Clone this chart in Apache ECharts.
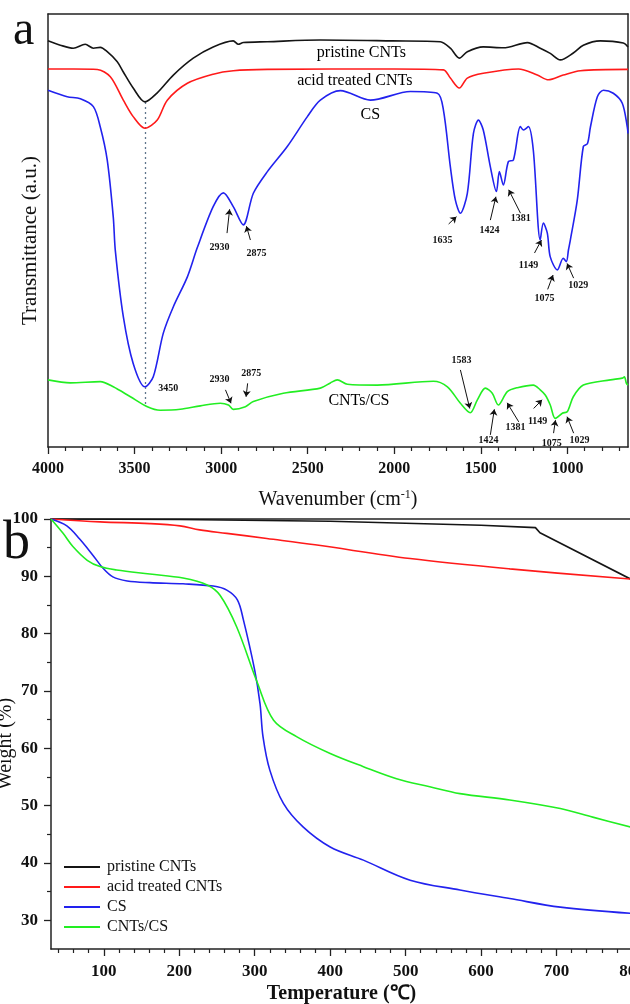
<!DOCTYPE html>
<html>
<head>
<meta charset="utf-8">
<title>FTIR / TGA of CNTs, CS and CNTs/CS</title>
<script src="https://cdn.jsdelivr.net/npm/echarts@6.0.0/dist/echarts.min.js"></script>
<style>
  html, body { margin: 0; padding: 0; background: #fff; }
  #main { width: 630px; height: 1004px; }
</style>
</head>
<body>
<div id="main"></div>
<script>
// ---- (a) FTIR spectra: [wavenumber (cm-1), transmittance (a.u.)]
var ftirPristine = [[4000,93.8],[3929,92.8],[3854,92.1],[3785,93.0],[3738,92.1],[3698,92.3],[3658,91.3],[3600,89.0],[3565,86.6],[3508,82.9],[3440,79.7],[3369,81.8],[3276,85.9],[3161,89.8],[3046,92.4],[2930,93.8],[2901,93.0],[2872,93.4],[2733,93.6],[2427,94.0],[2011,93.8],[1734,93.6],[1676,92.1],[1624,89.8],[1578,91.3],[1486,92.4],[1370,92.2],[1231,93.4],[1157,92.1],[1099,90.9],[1041,89.4],[966,91.0],[908,92.8],[810,93.8],[677,93.3],[650,92.4]];
var ftirAcid = [[4000,87.3],[3850,87.3],[3715,87.2],[3640,85.5],[3565,80.1],[3508,76.3],[3440,73.6],[3369,75.5],[3311,80.1],[3195,84.0],[3046,86.1],[2930,86.9],[2733,87.2],[2000,87.3],[1716,87.1],[1676,85.2],[1624,82.9],[1578,85.2],[1486,86.3],[1283,87.3],[1174,85.9],[1110,84.8],[1024,85.9],[925,86.9],[650,87.2]];
var ftirCS = [[4000,82.4],[3889,80.9],[3813,80.4],[3738,78.6],[3698,73.9],[3658,66.3],[3623,53.1],[3611,45.3],[3565,30.1],[3508,19.3],[3440,13.9],[3392,16.2],[3334,26.3],[3276,32.4],[3195,39.3],[3138,46.0],[3046,55.5],[2987,58.7],[2930,55.5],[2872,51.3],[2814,58.6],[2733,63.6],[2618,69.4],[2502,76.3],[2427,80.1],[2311,82.3],[2138,80.1],[1907,82.1],[1751,81.7],[1716,77.8],[1676,64.7],[1647,57.0],[1618,54.0],[1578,58.6],[1543,72.4],[1514,75.5],[1486,73.2],[1445,64.7],[1410,59.0],[1393,63.6],[1370,60.5],[1341,65.9],[1312,66.3],[1272,74.0],[1254,73.2],[1225,74.0],[1197,68.6],[1157,47.8],[1139,51.7],[1116,49.4],[1099,43.9],[1058,40.9],[1024,43.6],[1006,42.8],[994,45.5],[983,47.8],[943,57.0],[908,69.4],[884,70.1],[867,73.9],[827,80.9],[792,82.4],[735,81.7],[683,79.4],[654,73.9],[650,72.4]];
var ftirComposite = [[4000,15.5],[3871,14.8],[3698,15.1],[3623,13.9],[3524,11.6],[3426,9.3],[3352,8.5],[3236,8.7],[3120,9.5],[3005,10.1],[2958,9.7],[2930,8.7],[2860,9.3],[2814,10.5],[2641,12.4],[2427,13.6],[2369,14.8],[2329,15.5],[2271,14.5],[2098,14.3],[1774,15.2],[1693,13.9],[1618,10.1],[1561,7.9],[1520,10.9],[1474,13.6],[1434,12.4],[1399,9.7],[1347,12.8],[1289,13.7],[1197,14.3],[1157,13.2],[1128,12.0],[1099,9.7],[1070,6.6],[1029,7.8],[1000,8.2],[966,11.6],[908,14.3],[752,15.5],[683,15.9],[671,16.2],[659,14.7],[650,14.3]];
var ftirTicks = [1000, 1500, 2000, 2500, 3000, 3500, 4000];

// curve names written on the spectra
var curveLabels = [
  { text: 'pristine CNTs', at: [2190, 91.0] },
  { text: 'acid treated CNTs', at: [2228, 84.5] },
  { text: 'CS', at: [2138, 76.7] },
  { text: 'CNTs/CS', at: [2204, 10.6] }
];
// peak labels and their arrows (tail -> tip)
var peakLabels = [
  { text: '2930', at: [3010, 46.2] }, { text: '2875', at: [2796, 44.8] },
  { text: '3450', at: [3305, 13.6] }, { text: '1635', at: [1722, 47.6] },
  { text: '1424', at: [1450, 50.1] }, { text: '1381', at: [1270, 52.9] },
  { text: '1149', at: [1225, 42.0] }, { text: '1075', at: [1132, 34.4] },
  { text: '1029', at: [938, 37.4] },
  { text: '2930', at: [3010, 15.5] }, { text: '2875', at: [2826, 17.1] },
  { text: '1583', at: [1611, 20.1] }, { text: '1424', at: [1456, 1.6] },
  { text: '1381', at: [1300, 4.6] }, { text: '1149', at: [1172, 5.8] },
  { text: '1075', at: [1091, 0.9] }, { text: '1029', at: [930, 1.6] }
];
var peakArrows = [
  [[2966, 49.4], [2951, 54.9]], [[2831, 47.8], [2854, 51.0]],
  [[1686, 51.5], [1641, 53.2]], [[1445, 52.4], [1413, 57.8]],
  [[1271, 54.0], [1339, 59.4]], [[1190, 44.8], [1150, 47.8]],
  [[1114, 36.4], [1083, 39.7]], [[964, 39.0], [1002, 42.4]],
  [[2975, 13.2], [2943, 10.1]], [[2847, 14.7], [2856, 11.6]],
  [[1618, 17.8], [1564, 8.9]], [[1445, 2.8], [1422, 8.7]],
  [[1281, 5.8], [1348, 10.2]], [[1195, 8.9], [1146, 10.9]],
  [[1080, 3.2], [1069, 6.2]], [[964, 3.2], [1002, 7.0]]
];
var guideLine = [[3440, 79.7], [3440, 9.4]];

// ---- (b) TGA: [temperature (°C), weight (%)]
var tgaPristine = [[30,100],[200,99.9],[400,99.6],[600,98.9],[672,98.5],[678,97.6],[800,89.4]];
var tgaAcid = [[30,100],[95,99.5],[161,99.2],[201,98.8],[227,98.1],[263,97.5],[316,96.6],[380,95.5],[506,93.1],[638,91.3],[800,89.5]];
var tgaCS = [[30,100],[51,98.8],[68,96.5],[86,93.6],[99,91.4],[112,89.9],[131,89.2],[161,88.9],[205,88.7],[245,88.3],[263,87.6],[277,85.9],[285,82.4],[300,73.6],[307,67.8],[311,62.0],[320,56.2],[338,50.4],[364,46.3],[400,42.8],[444,40.5],[506,37.0],[572,35.3],[638,33.8],[705,32.3],[800,31.2]];
var tgaComposite = [[30,100],[46,97.5],[59,95.2],[78,92.8],[95,91.7],[117,91.1],[161,90.4],[205,89.7],[237,88.5],[254,86.7],[276,81.2],[303,71.6],[325,64.9],[356,62.0],[400,59.1],[444,56.8],[488,54.7],[532,53.3],[572,52.1],[638,51.0],[705,49.5],[748,48.0],[800,46.2]];
var tgaXTicks = [100, 200, 300, 400, 500, 600, 700, 800];
var tgaYTicks = [30, 40, 50, 60, 70, 80, 90, 100];

var names = ['pristine CNTs', 'acid treated CNTs', 'CS', 'CNTs/CS'];
var colors = ['#151515', '#ff1a1a', '#2222ee', '#22ee22'];
var FONT = '"Liberation Serif", "Times New Roman", serif';
var INK = '#111';

// minor tick positions
var ftirMinor = [];
for (var v = 700; v < 4000; v += 100) if (v % 500) ftirMinor.push(v);
var tgaXMinor = [];
for (var t = 40; t < 800; t += 20) if (t % 100) tgaXMinor.push(t);
var tgaYMinor = [35, 45, 55, 65, 75, 85, 95];

function plain(v) { return String(v); }

function frameAxis(grid, pos, min, max, inverse) {
  return {
    type: 'value', gridIndex: grid, position: pos, min: min, max: max, inverse: !!inverse,
    axisLine: { show: true, onZero: false, lineStyle: { color: '#222', width: 1.5 } },
    axisTick: { show: false }, axisLabel: { show: false }, splitLine: { show: false }
  };
}
function minorAxis(grid, pos, min, max, ticks, inverse) {
  return {
    type: 'value', gridIndex: grid, position: pos, min: min, max: max, inverse: !!inverse,
    axisLine: { show: false, onZero: false },
    axisTick: { show: true, length: 4, customValues: ticks, lineStyle: { color: '#222', width: 1.2 } },
    axisLabel: { show: false }, splitLine: { show: false }
  };
}

var chart = echarts.init(document.getElementById('main'));

var option = {
  animation: false,
  backgroundColor: '#fff',
  grid: [
    { left: 48, top: 14, width: 580, height: 433, outerBoundsMode: 'none', containLabel: false },
    { left: 51, top: 519, width: 581, height: 430, outerBoundsMode: 'none', containLabel: false }
  ],
  xAxis: [
    {
      type: 'value', gridIndex: 0, min: 650, max: 4000, inverse: true, position: 'bottom',
      axisLine: { show: true, onZero: false, lineStyle: { color: '#222', width: 1.5 } },
      axisTick: { show: true, length: 7, customValues: ftirTicks, lineStyle: { color: '#222', width: 1.3 } },
      axisLabel: { customValues: ftirTicks, formatter: plain, fontFamily: FONT, fontSize: 16, fontWeight: 'bold', color: INK, margin: 14 },
      splitLine: { show: false },
      name: 'Wavenumber (cm{sup|-1})', nameLocation: 'middle', nameGap: 42, nameMoveOverlap: false,
      nameTextStyle: {
        fontFamily: FONT, fontSize: 20, color: INK,
        rich: { sup: { fontFamily: FONT, fontSize: 12, color: INK, padding: [0, 0, 10, 0] } }
      }
    },
    minorAxis(0, 'bottom', 650, 4000, ftirMinor, true),
    frameAxis(0, 'top', 650, 4000, true),
    {
      type: 'value', gridIndex: 1, min: 30, max: 800, position: 'bottom',
      axisLine: { show: true, onZero: false, lineStyle: { color: '#222', width: 1.5 } },
      axisTick: { show: true, length: 7, customValues: tgaXTicks, lineStyle: { color: '#222', width: 1.3 } },
      axisLabel: { customValues: tgaXTicks, formatter: plain, fontFamily: FONT, fontSize: 17, fontWeight: 'bold', color: INK, margin: 14 },
      splitLine: { show: false },
      name: 'Temperature (\u2103)', nameLocation: 'middle', nameGap: 35, nameMoveOverlap: false,
      nameTextStyle: { fontFamily: FONT, fontSize: 20, fontWeight: 'bold', color: INK }
    },
    minorAxis(1, 'bottom', 30, 800, tgaXMinor),
    frameAxis(1, 'top', 30, 800)
  ],
  yAxis: [
    {
      type: 'value', gridIndex: 0, min: 0, max: 100, position: 'left',
      axisLine: { show: true, onZero: false, lineStyle: { color: '#222', width: 1.5 } },
      axisTick: { show: false }, axisLabel: { show: false }, splitLine: { show: false },
      name: 'Transmittance (a.u.)', nameLocation: 'middle', nameRotate: 90, nameGap: 7, nameMoveOverlap: false,
      nameTextStyle: { fontFamily: FONT, fontSize: 21, color: INK, padding: [0, 20, 0, 0] }
    },
    frameAxis(0, 'right', 0, 100),
    {
      type: 'value', gridIndex: 1, min: 25, max: 100, position: 'left',
      axisLine: { show: true, onZero: false, lineStyle: { color: '#222', width: 1.5 } },
      axisTick: { show: true, length: 7, customValues: tgaYTicks, lineStyle: { color: '#222', width: 1.3 } },
      axisLabel: { customValues: tgaYTicks, formatter: plain, fontFamily: FONT, fontSize: 17, fontWeight: 'bold', color: INK, margin: 13 },
      splitLine: { show: false },
      name: 'Weight (%)', nameLocation: 'middle', nameRotate: 90, nameGap: 35, nameMoveOverlap: false,
      nameTextStyle: { fontFamily: FONT, fontSize: 20, color: INK, padding: [0, 20, 0, 0] }
    },
    minorAxis(1, 'left', 25, 100, tgaYMinor)
  ],
  legend: {
    data: names, orient: 'vertical', left: 64, top: 859, padding: 0,
    icon: 'rect', itemWidth: 36, itemHeight: 2, itemGap: 4,
    textStyle: { fontFamily: FONT, fontSize: 16, color: INK, lineHeight: 16, padding: [0, 0, 0, 2] },
    selectedMode: false
  },
  graphic: [
    { type: 'text', x: 13, y: 31, style: { text: 'a', font: '48px ' + FONT, fill: INK, verticalAlign: 'middle' } },
    { type: 'text', x: 3, y: 544, style: { text: 'b', font: '54px ' + FONT, fill: INK, verticalAlign: 'middle' } }
  ],
  series: []
};

var ftirSets = [ftirPristine, ftirAcid, ftirCS, ftirComposite];
var tgaSets = [tgaPristine, tgaAcid, tgaCS, tgaComposite];

ftirSets.forEach(function (d, i) {
  option.series.push({
    name: 'FTIR ' + names[i], type: 'line', xAxisIndex: 0, yAxisIndex: 0,
    data: d, showSymbol: false, smooth: 0.3, silent: true,
    lineStyle: { color: colors[i], width: 1.6 }, itemStyle: { color: colors[i] }
  });
});
tgaSets.forEach(function (d, i) {
  option.series.push({
    name: names[i], type: 'line', xAxisIndex: 3, yAxisIndex: 2,
    data: d, showSymbol: false, smooth: i === 0 ? false : 0.35, silent: true,
    lineStyle: { color: colors[i], width: 1.6 }, itemStyle: { color: colors[i] }
  });
});

option.series.push({
  type: 'lines', coordinateSystem: 'cartesian2d', xAxisIndex: 0, yAxisIndex: 0, silent: true,
  symbol: ['none', 'none'],
  lineStyle: { color: '#60758c', width: 1.3, type: [2, 3], opacity: 1 },
  data: [{ coords: guideLine }]
});
option.series.push({
  type: 'lines', coordinateSystem: 'cartesian2d', xAxisIndex: 0, yAxisIndex: 0, silent: true,
  symbol: ['none', 'arrow'], symbolSize: 6,
  lineStyle: { color: INK, width: 1, opacity: 1 },
  data: peakArrows.map(function (a) { return { coords: a }; })
});
option.series.push({
  type: 'scatter', xAxisIndex: 0, yAxisIndex: 0, silent: true, symbolSize: 1,
  itemStyle: { color: 'rgba(0,0,0,0)', opacity: 1 },
  label: { show: true, position: 'inside', formatter: '{b}', fontFamily: FONT, fontSize: 16, color: '#000', opacity: 1 },
  data: curveLabels.map(function (l) { return { name: l.text, value: l.at }; })
});
option.series.push({
  type: 'scatter', xAxisIndex: 0, yAxisIndex: 0, silent: true, symbolSize: 1,
  itemStyle: { color: 'rgba(0,0,0,0)', opacity: 1 },
  label: { show: true, position: 'inside', formatter: '{b}', fontFamily: FONT, fontSize: 10, fontWeight: 'bold', color: INK, opacity: 1 },
  data: peakLabels.map(function (l) { return { name: l.text, value: l.at }; })
});

chart.setOption(option);
</script>
</body>
</html>
